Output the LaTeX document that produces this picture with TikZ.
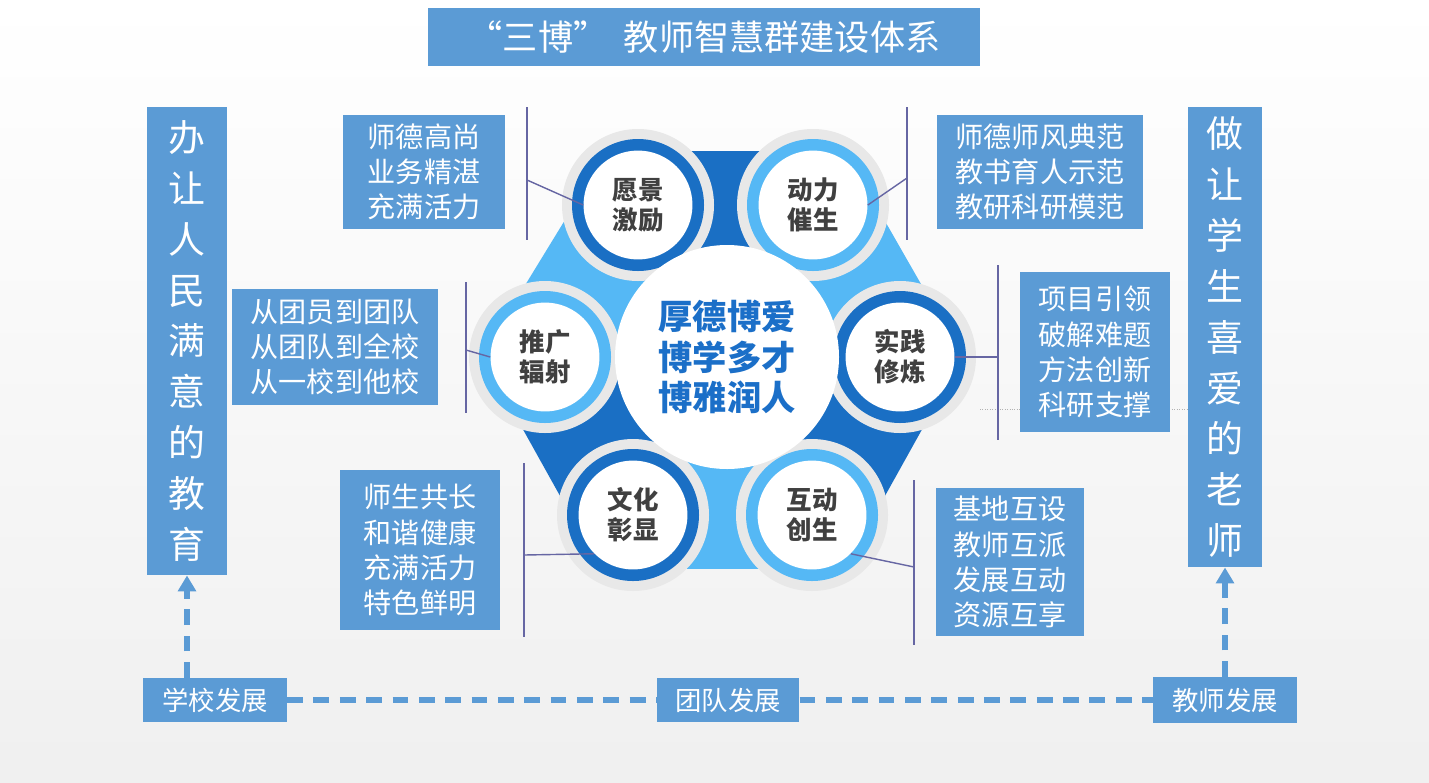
\documentclass[tikz,border=0pt]{standalone}
\usepackage{fontspec}
\setmainfont{Noto Sans CJK SC}
\usetikzlibrary{arrows.meta}
\definecolor{boxblue}{HTML}{5B9BD5}
\definecolor{darkblue}{HTML}{1A6FC4}
\definecolor{lightblue}{HTML}{55B8F5}
\definecolor{hubtext}{HTML}{1B6FC8}
\tikzset{
  textbox/.style={fill=boxblue, text=white, font=\fontsize{16}{20}\selectfont, align=left, inner ysep=0pt, inner xsep=6pt},
  vbox/.style={fill=boxblue, text=white, font=\fontsize{21}{29}\selectfont, align=center, inner sep=0pt},
  devbox/.style={fill=boxblue, text=white, font=\fontsize{15}{18}\selectfont, inner sep=0pt},
  lead/.style={draw=black!60!blue!60, line width=0.8pt},
  petal/.style={circle, fill=white, text=black!75, minimum size=62pt, font=\bfseries\fontsize{14.5}{17}\selectfont, align=center, inner sep=0pt},
  link/.style={draw=boxblue, line width=3pt, dash pattern=on 9pt off 6pt}
}
\begin{document}
\begin{tikzpicture}[x=0.02cm, y=-0.02cm]
  \shade[top color=white, bottom color=gray!12] (0,0) rectangle (1429,782);
  % title
  \node[fill=boxblue, text=white, minimum width=555*0.567pt, minimum height=58*0.567pt, font=\fontsize{20}{22}\selectfont] (title) at (704,37) {“三博”\ \ 教师智慧群建设体系};
  % side boxes
  \node[vbox, minimum width=81*0.567pt, minimum height=470*0.567pt] (school) at (187,341) {办\\让\\人\\民\\满\\意\\的\\教\\育};
  \node[vbox, minimum width=74*0.567pt, minimum height=462*0.567pt] (teacher) at (1225,337) {做\\让\\学\\生\\喜\\爱\\的\\老\\师};
  % bottom
  \node[devbox, minimum width=144*0.567pt, minimum height=44*0.567pt] (xx) at (215,700) {学校发展};
  \node[devbox, minimum width=143*0.567pt, minimum height=44*0.567pt] (td) at (728,700) {团队发展};
  \node[devbox, minimum width=144*0.567pt, minimum height=46*0.567pt] (js) at (1225,700) {教师发展};
  \draw[link] (xx) -- (td);
  \draw[link] (td) -- (js);
  \draw[link, -{Triangle[length=9pt, width=10pt]}] (xx.north -| school) -- (school.south);
  \draw[link, -{Triangle[length=9pt, width=10pt]}] (js.north -| teacher) -- (teacher.south);
  \draw[gray!60, densely dotted] (980,409) -- (1188,409);
  % hub ring
  \coordinate (c1) at (638,205);
  \coordinate (c2) at (813,205);
  \coordinate (c3) at (900,357);
  \coordinate (c4) at (812,515);
  \coordinate (c5) at (633,515);
  \coordinate (c6) at (545,357);
  \foreach \a/\b/\col in {c1/c2/darkblue, c2/c3/lightblue, c3/c4/darkblue, c4/c5/lightblue, c5/c6/darkblue, c6/c1/lightblue}
    \draw[\col, line width=62pt, line cap=round] (\a) -- (\b);
  \foreach \c/\col in {c1/darkblue, c2/lightblue, c3/darkblue, c4/lightblue, c5/darkblue, c6/lightblue}{
    \fill[gray!18] (\c) circle (76);
    \fill[\col] (\c) circle (66);
  }
  \fill[white] (727,357) circle (112);
  \node[font=\bfseries\fontsize{19.5}{23}\selectfont, text=hubtext, align=center] (core) at (727,357) {厚德博爱\\博学多才\\博雅润人};
  \node[petal] (yj) at (c1) {愿景\\激励};
  \node[petal] (dl) at (c2) {动力\\催生};
  \node[petal] (sj) at (c3) {实践\\修炼};
  \node[petal] (hd) at (c4) {互动\\创生};
  \node[petal] (wh) at (c5) {文化\\彰显};
  \node[petal] (tg) at (c6) {推广\\辐射};
  % text boxes
  \node[textbox, minimum width=162*0.567pt, minimum height=115*0.567pt] (t1) at (424,172) {师德高尚\\业务精湛\\充满活力};
  \node[textbox, minimum width=206*0.567pt, minimum height=115*0.567pt] (t2) at (1040,172) {师德师风典范\\教书育人示范\\教研科研模范};
  \node[textbox, minimum width=206*0.567pt, minimum height=116*0.567pt] (t3) at (335,347) {从团员到团队\\从团队到全校\\从一校到他校};
  \node[textbox, minimum width=150*0.567pt, minimum height=161*0.567pt] (t4) at (1095,352) {项目引领\\破解难题\\方法创新\\科研支撑};
  \node[textbox, minimum width=161*0.567pt, minimum height=160*0.567pt] (t5) at (420,550) {师生共长\\和谐健康\\充满活力\\特色鲜明};
  \node[textbox, minimum width=149*0.567pt, minimum height=149*0.567pt] (t6) at (1010,562) {基地互设\\教师互派\\发展互动\\资源互享};
  % leaders
  \coordinate (v1) at (527,180);
  \draw[lead] (527,107) -- (527,240);
  \draw[lead] (v1) -- (yj.west);
  \coordinate (v2) at (907,178);
  \draw[lead] (907,107) -- (907,240);
  \draw[lead] (v2) -- (dl.east);
  \coordinate (v3) at (466,350);
  \draw[lead] (466,282) -- (466,413);
  \draw[lead] (v3) -- (tg.west);
  \coordinate (v4) at (998,357);
  \draw[lead] (998,265) -- (998,440);
  \draw[lead] (v4) -- (sj.east);
  \coordinate (v5) at (524,555);
  \draw[lead] (524,463) -- (524,637);
  \draw[lead] (v5) -- (wh.south west);
  \coordinate (v6) at (914,567);
  \draw[lead] (914,480) -- (914,645);
  \draw[lead] (v6) -- (hd.south east);
\end{tikzpicture}
\end{document}
